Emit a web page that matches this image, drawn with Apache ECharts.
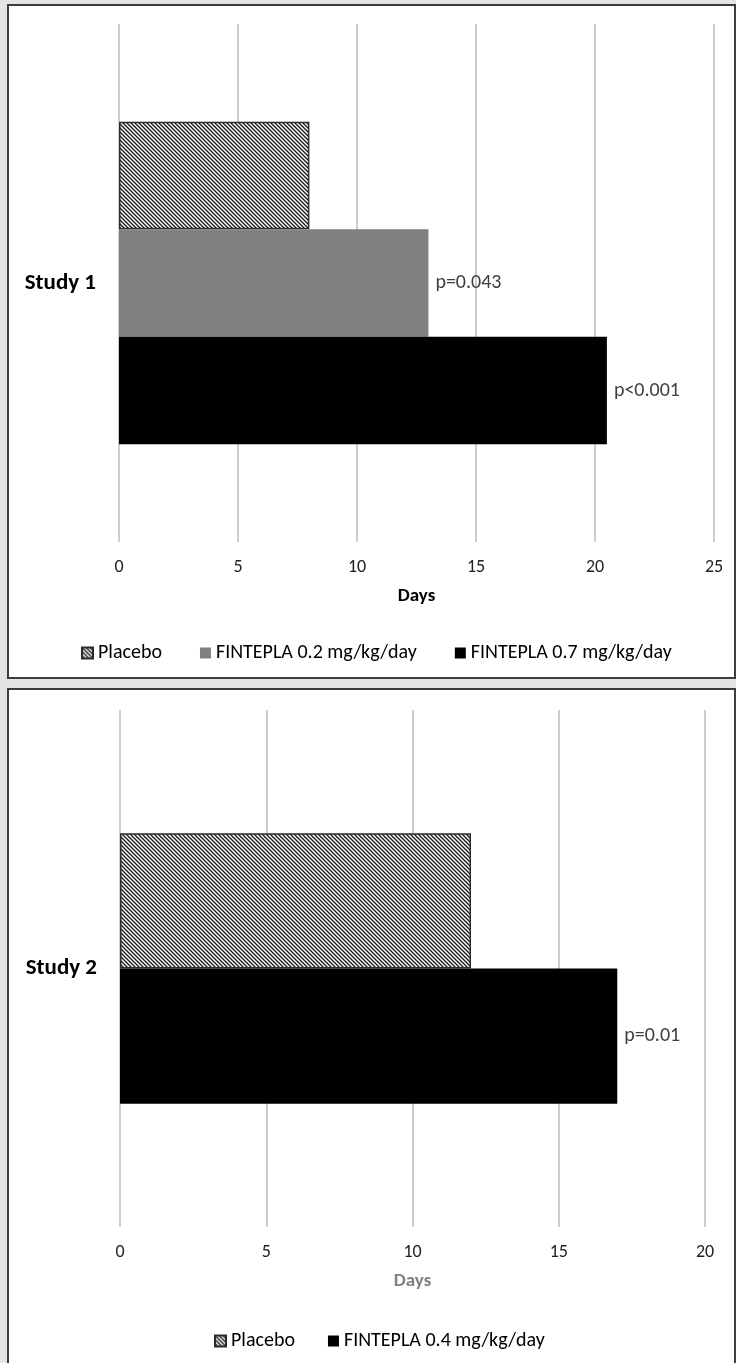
<!DOCTYPE html>
<html>
<head>
<meta charset="utf-8">
<script src="https://cdn.jsdelivr.net/npm/echarts@6/dist/echarts.min.js"></script>
<style>
  html, body { margin:0; padding:0; width:736px; height:1363px; overflow:hidden; background:#e4e4e4; }
  .panel { position:absolute; box-sizing:border-box; background:#fff; border:2px solid #3c3c3c; }
  #p1 { left:7px; top:4px; width:729px; height:675px; }
  #p2 { left:7px; top:688px; width:729px; height:700px; }
  #c { position:absolute; left:0; top:0; width:736px; height:1363px; }
</style>
</head>
<body>
<div class="panel" id="p1"></div>
<div class="panel" id="p2"></div>
<div id="c"></div>
<script>
// ---- data ----
const study1Category = ['Study 1'];
const study1Series = ['Placebo', 'FINTEPLA 0.2 mg/kg/day', 'FINTEPLA 0.7 mg/kg/day'];
const study1Values = [8, 13, 20.5];
const study1PLabels = ['', 'p=0.043', 'p<0.001'];
const study1AxisMax = 25;

const study2Category = ['Study 2'];
const study2Series = ['Placebo', 'FINTEPLA 0.4 mg/kg/day'];
const study2Values = [12, 17];
const study2PLabels = ['', 'p=0.01'];
const study2AxisMax = 20;

const tickInterval = 5;
const axisName = 'Days';

// ---- hatch pattern ----
function hatch() {
  const s = 4;
  const cv = document.createElement('canvas');
  cv.width = s; cv.height = s;
  const ctx = cv.getContext('2d');
  ctx.fillStyle = '#fff'; ctx.fillRect(0, 0, s, s);
  ctx.strokeStyle = '#1a1a1a'; ctx.lineWidth = 1.3;
  for (let k = -1; k <= 1; k++) {
    ctx.beginPath(); ctx.moveTo(k * s - 1, -1); ctx.lineTo(k * s + s + 1, s + 1); ctx.stroke();
  }
  return { image: cv, repeat: 'repeat' };
}
const pattern = hatch();
const font = 'Carlito, Calibri, Lato, sans-serif';
const fills = { 'Placebo': pattern, 'FINTEPLA 0.2 mg/kg/day': '#808080', 'FINTEPLA 0.7 mg/kg/day': '#000000', 'FINTEPLA 0.4 mg/kg/day': '#000000' };

function makeSeries(names, values, labels, idx, gap) {
  return names.map((n, i) => ({
    type: 'bar', name: n, xAxisIndex: idx, yAxisIndex: idx,
    data: [values[i]], barGap: '0%', barCategoryGap: gap,
    itemStyle: n === 'Placebo'
      ? { color: fills[n], borderColor: '#2b2b2b', borderWidth: 1.5 }
      : { color: fills[n] },
    label: {
      show: labels[i] !== '', position: 'right', distance: 7,
      formatter: () => labels[i], color: '#404040', fontSize: 20, fontFamily: font
    },
    animation: false
  }));
}

function xAx(idx, max, nameColor) {
  return {
    type: 'value', gridIndex: idx, min: 0, max: max, interval: tickInterval,
    name: axisName, nameLocation: 'middle', nameGap: 45,
    nameTextStyle: { fontFamily: font, fontWeight: 'bold', fontSize: 19, color: nameColor },
    axisLine: { show: false }, axisTick: { show: false },
    axisLabel: { fontFamily: font, fontSize: 18, color: '#222', margin: 16 },
    splitLine: { show: true, lineStyle: { color: '#bdbdbd', width: 1.5 } }
  };
}
function yAx(idx, cats) {
  return {
    type: 'category', gridIndex: idx, data: cats, inverse: true,
    axisLine: { show: false }, axisTick: { show: false },
    axisLabel: { fontFamily: font, fontWeight: 'bold', fontSize: 23, color: '#000', margin: 23 }
  };
}

const legendText = { fontFamily: font, fontSize: 20, color: '#000' };
const chart = echarts.init(document.getElementById('c'), null, { renderer: 'canvas' });
chart.setOption({
  backgroundColor: 'transparent',
  animation: false,
  grid: [
    { left: 119, top: 24, width: 595, height: 518 },
    { left: 120, top: 710, width: 585, height: 517 }
  ],
  xAxis: [xAx(0, study1AxisMax, '#000'), xAx(1, study2AxisMax, '#7f7f7f')],
  yAxis: [yAx(0, study1Category), yAx(1, study2Category)],
  legend: [
    { data: study1Series, left: 76, top: 638, itemWidth: 11, itemHeight: 11, itemGap: 38,
      icon: 'rect', textStyle: legendText },
    { data: study2Series, left: 209, top: 1326, itemWidth: 11, itemHeight: 11, itemGap: 33,
      icon: 'rect', textStyle: legendText }
  ],
  series: [
    ...makeSeries(study1Series, study1Values, study1PLabels, 0, '37.7%'),
    ...makeSeries(study2Series, study2Values, study2PLabels, 1, '47.7%')
  ]
});
</script>
</body>
</html>
